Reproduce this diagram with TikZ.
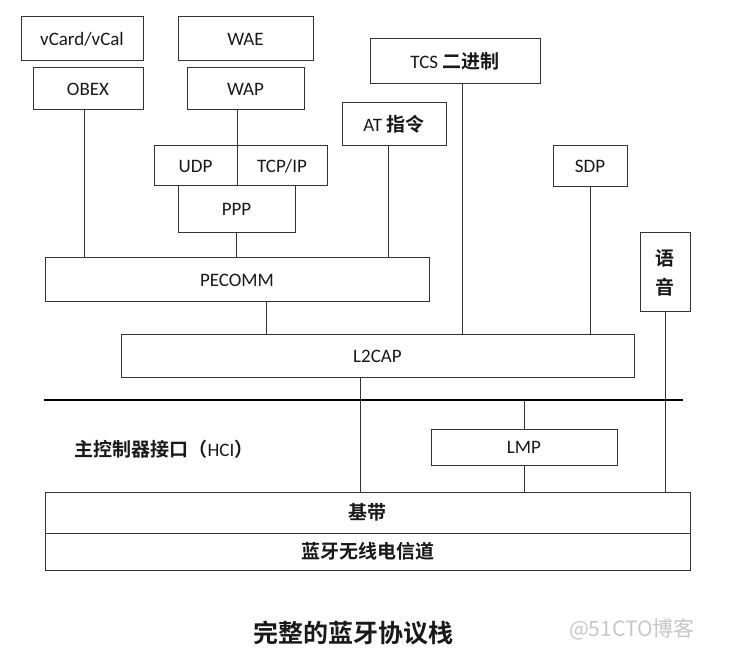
\documentclass[tikz,border=0pt]{standalone}
\usepackage{fontspec}
\setmainfont{Carlito}
\newfontfamily\cjk{Noto Sans CJK SC}[BoldFont={Noto Sans CJK SC Bold}]
\newcommand\zhb[1]{{\cjk\bfseries #1}}

\begin{document}
\begin{tikzpicture}[x=1pt,y=-1pt,
    box/.style={draw=black!80,line width=1pt,inner sep=0pt,text=black!90,font=\fontsize{19}{22}\selectfont},
    wire/.style={draw=black!80,line width=1pt}]
  \useasboundingbox[fill=white](0,0)rectangle(745,671);
  % upper protocols
  \node[box,minimum width=122pt,minimum height=44pt](vcard)at(82,39){vCard/vCal};
  \node[box,minimum width=135pt,minimum height=44pt](wae)at(245.5,39){WAE};
  \node[box,minimum width=110pt,minimum height=42pt](obex)at(88,89){OBEX};
  \node[box,minimum width=117pt,minimum height=42pt](wap)at(245.5,89){WAP};
  \node[box,minimum width=170pt,minimum height=45pt](tcs)at(455,61.5){TCS \zhb{二进制}};
  \node[box,minimum width=104pt,minimum height=43pt](at)at(394,124.5){AT \zhb{指令}};
  \node[box,minimum width=83pt,minimum height=40pt](udp)at(195.5,166){UDP};
  \node[box,minimum width=90pt,minimum height=40pt](tcpip)at(282,166){TCP/IP};
  \node[box,minimum width=74pt,minimum height=41pt](sdp)at(590,166.5){SDP};
  \node[box,minimum width=117pt,minimum height=47pt](ppp)at(236.5,209.5){PPP};
  \node[box,minimum width=50pt,minimum height=79pt,align=center](voice)at(665,272.5){\zhb{语}\\[7pt]\zhb{音}};
  \node[box,minimum width=384pt,minimum height=44pt](pecomm)at(237,280){PECOMM};
  \node[box,minimum width=513pt,minimum height=42pt](l2cap)at(377.5,356){L2CAP};
  % host controller interface
  \coordinate(hciL)at(44,400);
  \coordinate(hciR)at(683,400);
  \draw[draw=black,line width=2.6pt](hciL)--(hciR);
  \node[text=black!90,font=\fontsize{19}{22}\selectfont](hci)at(164,449){\zhb{主控制器接口（}HCI\zhb{）}};
  \node[box,minimum width=186pt,minimum height=36pt](lmp)at(524,447){LMP};
  \node[box,minimum width=645pt,minimum height=41pt](baseband)at(367.5,512.5){\zhb{基带}};
  \node[box,minimum width=645pt,minimum height=37pt](radio)at(367.5,551.5){\zhb{蓝牙无线电信道}};
  % links
  \draw[wire]([xshift=-4pt]obex.south)--([xshift=-4pt]obex.south |- pecomm.north);
  \draw[wire](udp.north east |- wap.south)--(udp.north east);
  \draw[wire](ppp.south)--(ppp.south |- pecomm.north);
  \draw[wire]([xshift=-6pt]at.south)--([xshift=-6pt]at.south |- pecomm.north);
  \draw[wire]([xshift=7pt]tcs.south)--([xshift=7pt]tcs.south |- l2cap.north);
  \draw[wire](sdp.south)--(sdp.south |- l2cap.north);
  \draw[wire]([xshift=29pt]pecomm.south)--([xshift=29pt]pecomm.south |- l2cap.north);
  \draw[wire]([xshift=-17.5pt]l2cap.south)--([xshift=-17.5pt]l2cap.south |- baseband.north);
  \draw[wire](voice.south)--(voice.south |- baseband.north);
  \draw[wire](lmp.north |- hciR)--(lmp.north);
  \draw[wire](lmp.south)--(lmp.south |- baseband.north);
  % caption
  \node[text=black!90,font=\fontsize{25}{30}\selectfont](title)at(353,633){\zhb{完整的蓝牙协议栈}};
  \node[text=black!22,font=\cjk\fontsize{21}{24}\selectfont](mark)at(632,629){@51CTO博客};
\end{tikzpicture}
\end{document}
